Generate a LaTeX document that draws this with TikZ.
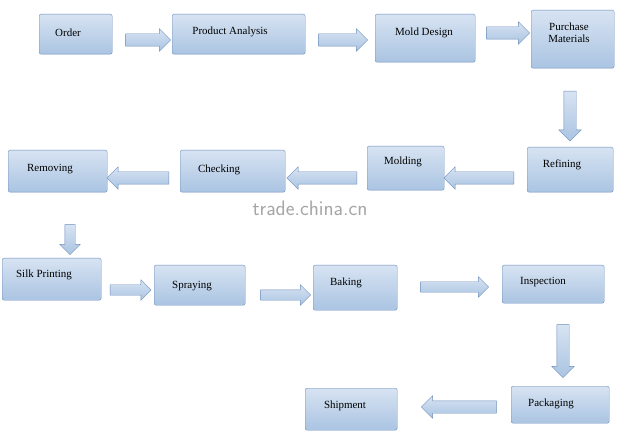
\documentclass[tikz,border=0pt]{standalone}
\usepackage{fontspec}
\setmainfont{Liberation Serif}
\usetikzlibrary{shapes.arrows}
\definecolor{boxtop}{RGB}{215, 227, 242}
\definecolor{boxbot}{RGB}{170, 196, 226}
\definecolor{boxline}{RGB}{110, 142, 186}
\begin{document}
\begin{tikzpicture}[x=1bp, y=-1bp,
    stage/.style={draw=boxline, rounded corners=2bp, top color=boxtop, bottom color=boxbot,
                 anchor=north west, inner sep=0pt},
    flow/.style={single arrow, draw=boxline, top color=boxtop, bottom color=boxbot,
                 inner sep=6bp, single arrow head extend=5bp,
                 single arrow head indent=0pt},
    txt/.style={font=\fontsize{11}{12.5}\selectfont, align=center}]
    \useasboundingbox[fill=white] (0,0) rectangle (621,435);
    % macro for a box: name, x, y, w, h, text, text position
    \newcommand\stagebox[7]{%
        \node[stage, minimum width=#4bp, minimum height=#5bp] (#1) at (#2,#3) {};
        \node[txt] (#1-t) at (#7) {#6};}
    \stagebox{order}{39}{14}{73}{40}{Order}{68,33}
    \stagebox{analysis}{172}{14}{133}{40}{Product Analysis}{230,32}
    \stagebox{mold}{375}{14}{100}{48}{Mold Design}{424,33}
    \stagebox{purchase}{531}{10}{83}{58}{Purchase\\Materials}{569,33}
    \stagebox{refining}{527}{147}{86}{45}{Refining}{562,165}
    \stagebox{molding}{367}{146}{77}{44}{Molding}{403,162}
    \stagebox{checking}{180}{150}{105}{42}{Checking}{219,170}
    \stagebox{removing}{8}{150}{99}{42}{Removing}{50,169}
    \stagebox{silk}{2}{258}{99}{42}{Silk Printing}{44,275}
    \stagebox{spraying}{154}{265}{91}{40}{Spraying}{192,286}
    \stagebox{baking}{313}{265}{84}{45}{Baking}{346,283}
    \stagebox{inspection}{502}{265}{102}{38}{Inspection}{543,282}
    \stagebox{packaging}{511}{386}{98}{37}{Packaging}{551,404}
    \stagebox{shipment}{305}{388}{92}{42}{Shipment}{345,406}
    % block arrows
    \node[flow, minimum height=45bp] (a1) at (145,40) {};
    \node[flow, minimum height=49bp] (a2) at (340,40) {};
    \node[flow, minimum height=43bp] (a3) at (505,33) {};
    \node[flow, minimum height=50bp, shape border rotate=270] (a4) at (570,113) {};
    \node[flow, minimum height=70bp, shape border rotate=180] (a5) at (482,178) {};
    \node[flow, minimum height=70bp, shape border rotate=180] (a6) at (325,178) {};
    \node[flow, minimum height=62bp, shape border rotate=180] (a7) at (141,178) {};
    \node[flow, minimum height=30bp, shape border rotate=270, inner sep=5bp] (a8) at (70,237) {};
    \node[flow, minimum height=41bp, inner sep=5bp] (a9) at (128,290) {};
    \node[flow, minimum height=50bp, inner sep=5bp] (a10) at (283,295) {};
    \node[flow, minimum height=68bp, inner sep=5bp] (a11) at (452,287) {};
    \node[flow, minimum height=53bp, shape border rotate=270] (a12) at (563,348) {};
    \node[flow, minimum height=75bp, shape border rotate=180] (a13) at (462,407) {};
    % watermark band
    \fill[white, opacity=0.6] (0,196) rectangle (621,214);
    \node[text=gray!70, font=\fontsize{21}{21}\sffamily] (mark) at (310,208) {trade.china.cn};
\end{tikzpicture}
\end{document}
